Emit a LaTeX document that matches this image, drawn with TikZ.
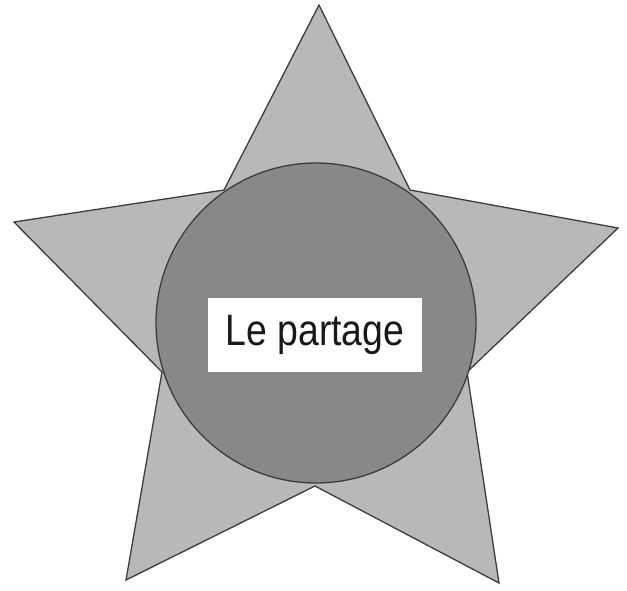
\documentclass[tikz,border=0pt]{standalone}
\usepackage{fontspec}
\setmainfont{Liberation Sans}[FakeStretch=0.85]
\usepackage{tikz}
\usetikzlibrary{positioning}

\definecolor{starfill}{HTML}{B8B8B8}
\definecolor{discfill}{HTML}{888888}
\definecolor{edgegray}{HTML}{3C3C3C}

\begin{document}
\begin{tikzpicture}[
    x=1pt, y=-1pt,
    star/.style={draw=edgegray, fill=starfill, line width=1.3pt, line join=miter},
    disc/.style={circle, draw=edgegray, fill=discfill, line width=1.3pt, minimum size=320pt, inner sep=0pt},
    label/.style={rectangle, fill=white, minimum width=214pt, minimum height=74pt, inner sep=0pt, font=\fontsize{44}{50}\selectfont, text=black!90}
]
\useasboundingbox (0,0) rectangle (627,590);

% Star points
\coordinate (top) at (319,5);
\coordinate (inUR) at (410,190);
\coordinate (right) at (618,228);
\coordinate (inLR) at (467,372);
\coordinate (botR) at (499,583);
\coordinate (inB) at (315,486);
\coordinate (botL) at (126,580);
\coordinate (inLL) at (162,372);
\coordinate (left) at (14,222);
\coordinate (inUL) at (224,190);

\draw[star] (top) -- (inUR) -- (right) -- (inLR) -- (botR) -- (inB)
    -- (botL) -- (inLL) -- (left) -- (inUL) -- cycle;

% Circle and label
\node[disc] (centre) at (316,323) {};
\node[label] (partage) at (315,335) {Le partage};
\end{tikzpicture}
\end{document}
